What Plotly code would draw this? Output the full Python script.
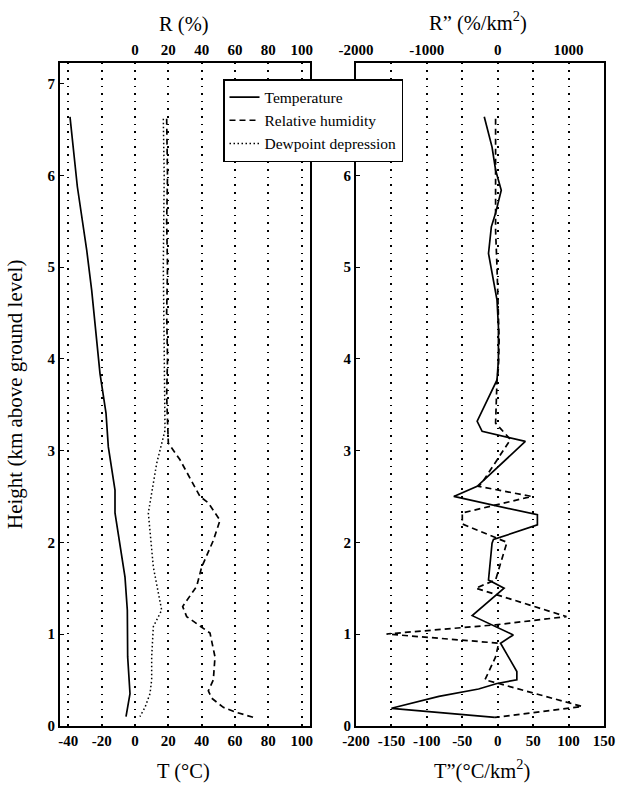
import plotly.graph_objects as go

# ---------------- data ----------------
# Left panel: temperature (deg C) vs height (km)
temp_h = [6.64, 5.88, 5.19, 4.75, 3.84, 3.41, 3.04, 2.57, 2.32, 1.95, 1.62, 1.26, 0.75, 0.35, 0.10]
temp_v = [-39, -34.6, -29, -26, -21, -17.4, -16, -12, -12, -9, -6, -4.6, -4.4, -3, -5.4]

# Relative humidity (%)
rh_h = [6.62, 6.0, 5.5, 5.0, 4.5, 4.0, 3.6, 3.3, 3.08, 2.9, 2.5, 2.43, 2.24, 2.02, 1.73, 1.52, 1.30,
        1.19, 1.08, 1.01, 0.75, 0.50, 0.38, 0.30, 0.20, 0.15, 0.08]
rh_v = [19, 19.5, 19, 19.5, 19, 19.5, 19, 19.5, 20, 27, 39, 44, 51, 47, 40, 37, 28.6,
        31, 40, 45, 48, 47, 44, 46, 53, 60, 73]

# Dewpoint depression (deg C)
dd_h = [6.62, 6.0, 5.0, 4.0, 3.5, 3.22, 2.86, 2.32, 1.73, 1.26, 1.08, 0.75, 0.50, 0.35, 0.20, 0.10]
dd_v = [17, 17.5, 17, 17.5, 18, 18, 13, 8, 11, 16, 11, 10, 10, 9, 6, 3]

# Right panel: T'' (deg C/km^2)
tpp_h = [6.64, 6.31, 6.06, 5.84, 5.59, 5.44, 5.15, 4.86, 4.64, 4.35, 3.99, 3.77, 3.32, 3.21, 3.10,
         2.61, 2.50, 2.30, 2.19, 2.03, 1.99, 1.59, 1.50, 1.20, 0.99, 0.90, 0.75, 0.59, 0.50, 0.46,
         0.40, 0.32, 0.19, 0.09]
tpp_v = [-19, -8, -3, 5, -3, -9, -13, -6, -1, 1, 1, -1, -29, -22, 39,
         -29, -62, 56, 56, -6, -8, -13, 9, -36, 22, 4, 15, 27, 27, -1,
         -27, -83, -150, -4]

# R'' (%/km^2)
rpp_h = [6.62, 6.3, 5.8, 5.4, 5.0, 4.6, 4.2, 3.9, 3.77, 3.30, 3.12, 2.68, 2.61, 2.50, 2.32, 2.20,
         2.00, 1.59, 1.50, 1.19, 1.10, 1.00, 0.90, 0.75, 0.50, 0.46, 0.21, 0.09]
rpp_v = [-30, -30, -20, -30, -10, 0, 20, 10, -10, -30, 180, -196, -266, 480, -500, -500,
         130, -30, -310, 970, -30, -1570, 14, -30, -180, 14, 1190, -40]

left_bottom_ticks = [-40, -20, 0, 20, 40, 60, 80, 100]
left_top_ticks = [0, 20, 40, 60, 80, 100]
right_bottom_ticks = [-200, -150, -100, -50, 0, 50, 100, 150]
right_top_ticks = [-2000, -1000, 0, 1000]
y_ticks = [0, 1, 2, 3, 4, 5, 6, 7]

# ---------------- figure ----------------
W, H = 625, 787
FONT = "Liberation Serif"


def labels(vals):
    return [str(v) for v in vals]


fig = go.Figure()
fig.add_trace(go.Scatter(x=temp_v, y=temp_h, mode="lines", name="Temperature",
                         line=dict(color="black", width=1.7), xaxis="x", yaxis="y"))
fig.add_trace(go.Scatter(x=rh_v, y=rh_h, mode="lines", name="Relative humidity",
                         line=dict(color="black", width=1.7, dash="6px,4px"), xaxis="x3", yaxis="y"))
fig.add_trace(go.Scatter(x=dd_v, y=dd_h, mode="lines", name="Dewpoint depression",
                         line=dict(color="black", width=1.5, dash="1.5px,2.5px"), xaxis="x", yaxis="y"))
fig.add_trace(go.Scatter(x=tpp_v, y=tpp_h, mode="lines", showlegend=False,
                         line=dict(color="black", width=1.7), xaxis="x2", yaxis="y2"))
fig.add_trace(go.Scatter(x=rpp_v, y=rpp_h, mode="lines", showlegend=False,
                         line=dict(color="black", width=1.7, dash="6px,4px"), xaxis="x4", yaxis="y2"))

xl = [60 / W, 310 / W]
xr = [356 / W, 604 / W]
yd = [(H - 725.7) / H, (H - 62.7) / H]

tickfont = dict(family=FONT, size=15, color="black", weight="bold")
common_x = dict(showline=True, linecolor="black", linewidth=2, ticks="", zeroline=False,
                tickfont=tickfont, automargin=False, fixedrange=True)
grid = dict(showgrid=True, gridcolor="black", gridwidth=1.6, griddash="1.6px,6px")

fig.update_layout(
    width=W, height=H,
    margin=dict(l=0, r=0, t=0, b=0),
    plot_bgcolor="white", paper_bgcolor="white",
    font=dict(family=FONT, color="black"),
    xaxis=dict(domain=xl, range=[-45, 105], tickvals=left_bottom_ticks,
               ticktext=labels(left_bottom_ticks), anchor="y", mirror=True, **grid, **common_x),
    xaxis3=dict(range=[-45, 105], tickvals=left_top_ticks, ticktext=labels(left_top_ticks),
                overlaying="x", side="top", anchor="y", showgrid=False, **common_x),
    xaxis2=dict(domain=xr, range=[-200, 150], tickvals=right_bottom_ticks,
                ticktext=labels(right_bottom_ticks), anchor="y2", mirror=True, **grid, **common_x),
    xaxis4=dict(range=[-2000, 1500], tickvals=right_top_ticks, ticktext=labels(right_top_ticks),
                overlaying="x2", side="top", anchor="y2", showgrid=False, **common_x),
    yaxis=dict(domain=yd, range=[0, 7.23], tickvals=y_ticks, anchor="x", showgrid=False,
               showline=True, linecolor="black", linewidth=2, mirror=True, zeroline=False,
               ticks="inside", ticklen=4, tickcolor="black", tickfont=tickfont,
               automargin=False, fixedrange=True),
    yaxis2=dict(domain=yd, range=[0, 7.23], tickvals=y_ticks, anchor="x2", showgrid=False,
                showline=True, linecolor="black", linewidth=2, mirror=True, zeroline=False,
                ticks="inside", ticklen=4, tickcolor="black", tickfont=tickfont,
                automargin=False, fixedrange=True),
    legend=dict(x=223 / W, y=1 - 79 / H, xanchor="left", yanchor="top",
                bgcolor="white", bordercolor="black", borderwidth=1.5,
                font=dict(family=FONT, size=15.5, color="black"),
                itemwidth=30, tracegroupgap=0),
    showlegend=True,
)

title_font = dict(family=FONT, size=20.5, color="black")
ann = [
    dict(text="R (%)", x=184 / W, y=1 - 25 / H),
    dict(text="T (°C)", x=183 / W, y=1 - 771 / H),
    dict(text="R\u201d (%/km<sup>2</sup>)", x=478 / W, y=1 - 22 / H),
    dict(text="T\u201d(°C/km<sup>2</sup>)", x=482 / W, y=1 - 769 / H),
]
for a in ann:
    fig.add_annotation(xref="paper", yref="paper", showarrow=False, font=title_font,
                       xanchor="center", yanchor="middle", **a)
fig.add_annotation(xref="paper", yref="paper", x=15 / W, y=1 - 395 / H, showarrow=False,
                   text="Height (km above ground level)", textangle=-90,
                   font=dict(family=FONT, size=21, color="black"),
                   xanchor="center", yanchor="middle")

fig.write_html("out.html", config={"displayModeBar": False},
               post_script="document.body.style.margin='0';document.body.style.overflow='hidden';")
